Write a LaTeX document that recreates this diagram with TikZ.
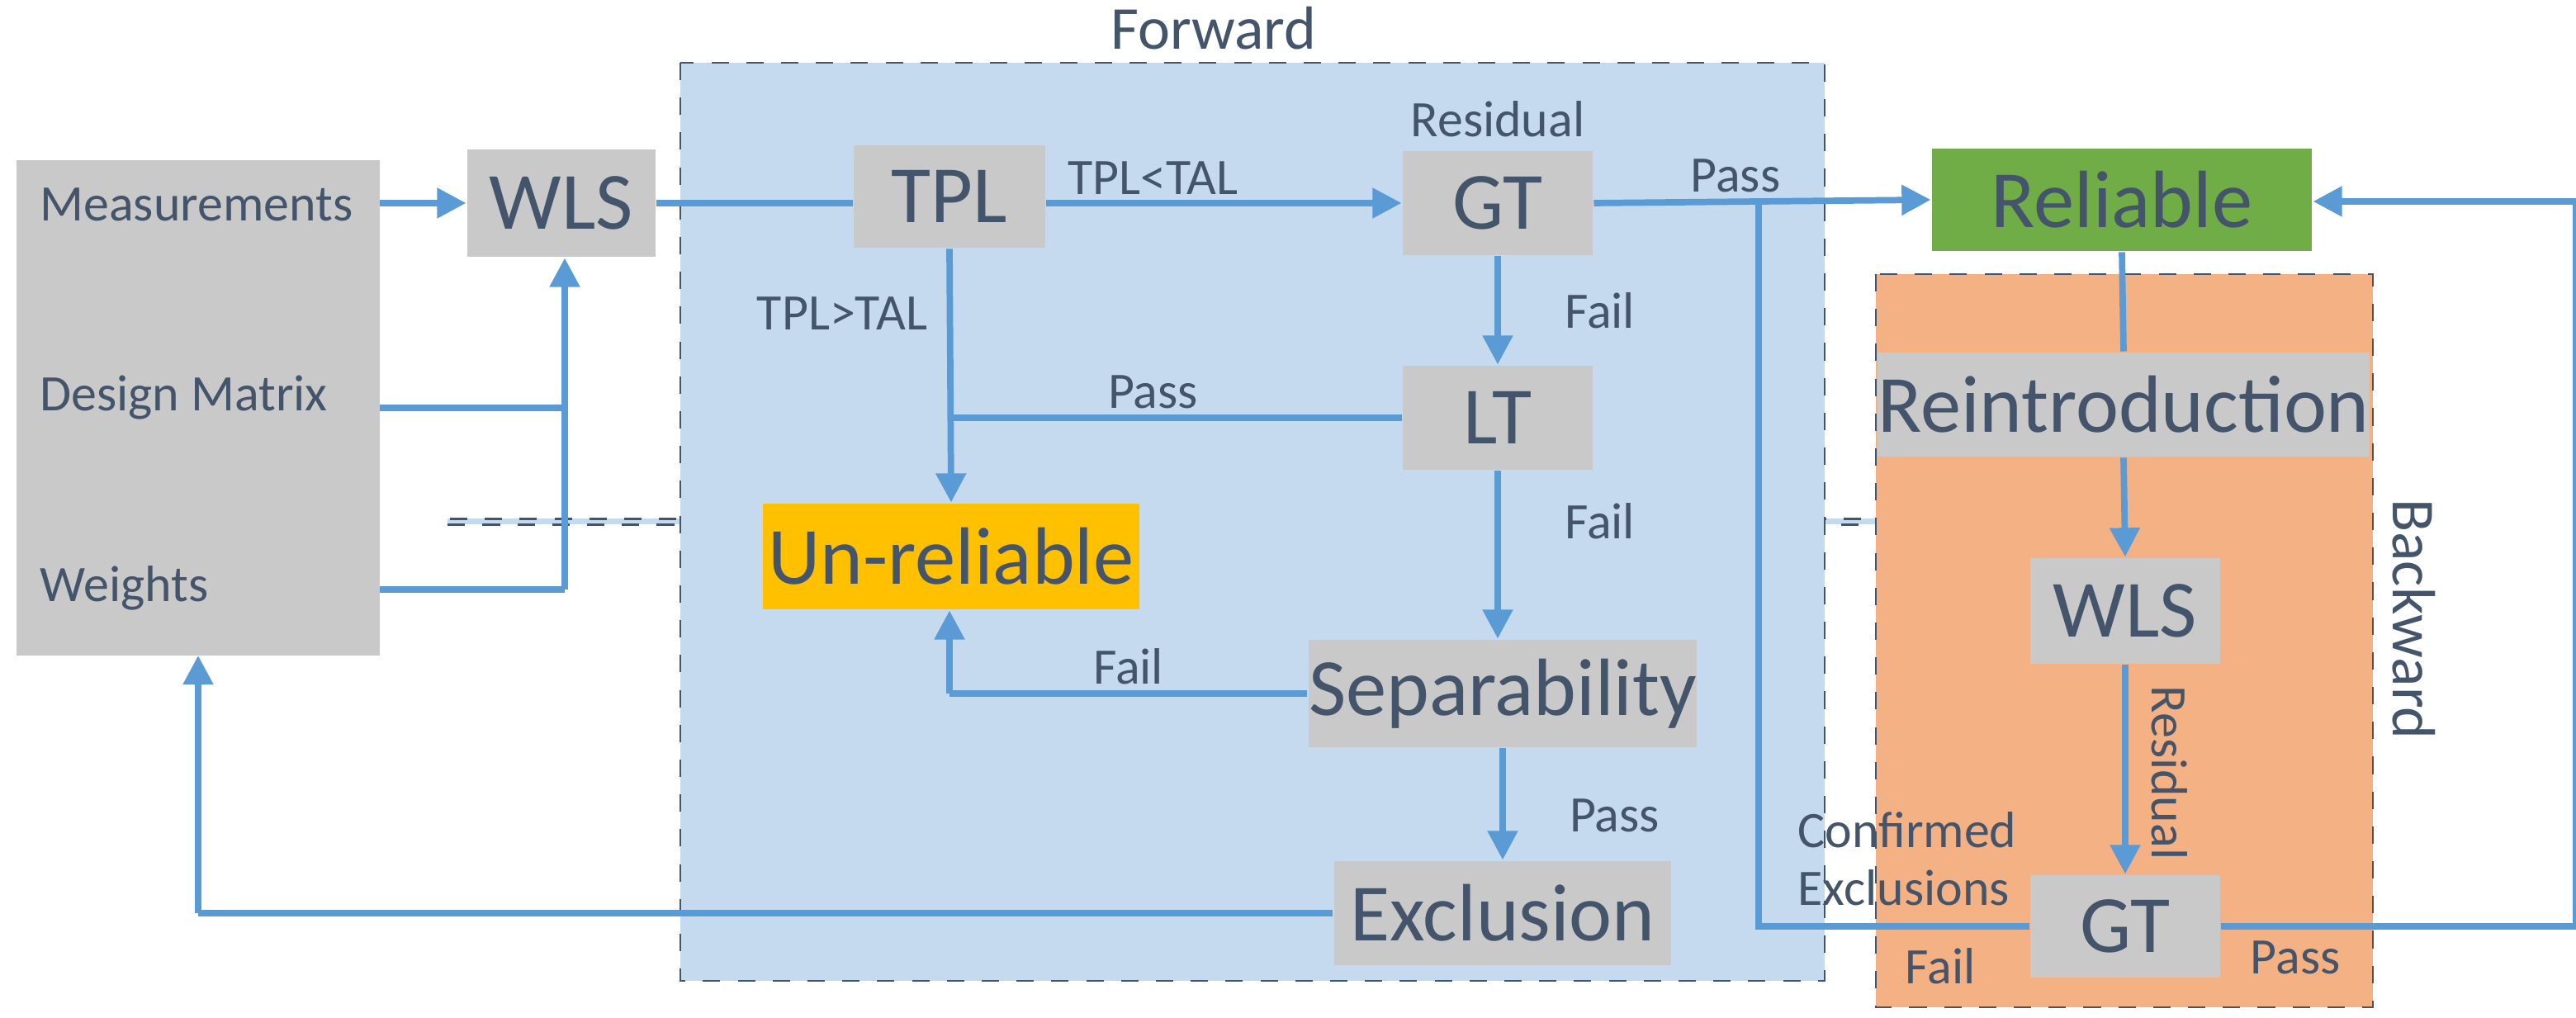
\documentclass[tikz,border=0pt]{standalone}
\usepackage{fontspec}
\setmainfont{Carlito}
\usetikzlibrary{arrows.meta}
\definecolor{txt}{HTML}{44546A}
\definecolor{ln}{HTML}{5B9BD5}
\definecolor{gr}{HTML}{C9C9C9}
\definecolor{fw}{HTML}{C5DAEE}
\definecolor{bw}{HTML}{F4B183}
\definecolor{frm}{HTML}{44546A}
\begin{document}
\begin{tikzpicture}[x=0.01cm,y=-0.01cm,
  box/.style={fill=gr,draw=none,text=txt,font=\fontsize{14}{16}\selectfont,inner sep=0},
  lab/.style={text=txt,font=\fontsize{8.8}{10}\selectfont,inner sep=1pt},
  con/.style={draw=ln,line width=1.1pt},
  arr/.style={con,-{Triangle[length=5pt,width=5pt]}}]
\useasboundingbox (0,0) rectangle (1560,616.5);
% regions
\node[fill=fw,draw=frm,dashed,minimum width=693\pgflinewidth,inner sep=0] (fwd) at (758.5,316) {};
\path[fill=fw,draw=frm,dashed,thin] (412,38) rectangle (1105,594);
\path[fill=bw,draw=frm,dashed,thin] (1136,166) rectangle (1437,610);
\node[text=txt,font=\fontsize{10.5}{12}\selectfont] (fl) at (735,17) {Forward};
\node[text=txt,font=\fontsize{10.5}{12}\selectfont,rotate=-90] (bl) at (1462,375) {Backward};
% left box
\path[fill=gr] (10,97) rectangle (230,397);
\node[lab,anchor=west] (meas) at (20,124) {Measurements};
\node[lab,anchor=west] (dm) at (20,241) {Design Matrix};
\node[lab,anchor=west] (wt) at (20,356) {Weights};
\coordinate (lbR1) at (230,123);
\coordinate (lbR2) at (230,247);
\coordinate (lbR3) at (230,357);
\coordinate (lbB) at (120,397);
% boxes
\node[box,minimum width=1.14cm,minimum height=0.65cm] (wls) at (340,123) {WLS};
\node[box,minimum width=1.16cm,minimum height=0.62cm] (tpl) at (575,119) {TPL};
\node[box,minimum width=1.15cm,minimum height=0.63cm] (gt) at (907,123) {GT};
\node[box,minimum width=1.15cm,minimum height=0.63cm] (lt) at (907,253) {LT};
\node[box,fill={rgb,255:red,255;green,192;blue,0},minimum width=2.28cm,minimum height=0.64cm] (ur) at (576,337) {Un-reliable};
\node[box,minimum width=2.35cm,minimum height=0.65cm] (sep) at (910,420) {Separability};
\node[box,minimum width=2.04cm,minimum height=0.63cm] (exc) at (910,553) {Exclusion};
\node[box,fill={rgb,255:red,112;green,173;blue,71},minimum width=2.3cm,minimum height=0.62cm] (rel) at (1285,121) {Reliable};
\node[box,minimum width=2.82cm,minimum height=0.63cm] (rei) at (1286,245) {Reintroduction};
\node[box,minimum width=1.15cm,minimum height=0.64cm] (wls2) at (1287,370) {WLS};
\node[box,minimum width=1.15cm,minimum height=0.62cm] (gt2) at (1287,561) {GT};
\node[lab] (resl) at (907,72) {Residual};
% connectors
\draw[arr] (lbR1) -- (wls.west);
\coordinate (j1) at (342,247);
\coordinate (j2) at (342,357);
\draw[con] (lbR2) -- (j1);
\draw[con] (lbR3) -- (j2);
\draw[arr] (j2) -- (wls.south -| j2);
\draw[con] (wls.east) -- (tpl.west |- wls.east);
\draw[arr] (tpl.east |- gt.west) -- node[lab,above,pos=0.3] (l1) {TPL<TAL} (gt.west);
\draw[arr] (tpl.south) -- (ur.north);
\node[lab] (l2) at (510,190) {TPL>TAL};
\coordinate (pj) at (575,253);
\draw[con] (lt.west) -- node[lab,above,pos=0.55] (l3) {Pass} (pj);
\draw[arr] (gt.south) -- node[lab,right,xshift=10pt] (l4) {Fail} (lt.north);
\draw[arr] (lt.south) -- node[lab,pos=0.3,right,xshift=10pt] (l5) {Fail} (sep.north -| lt.south);
\coordinate (sj) at (575,420);
\draw[con] (sep.west) -- node[lab,above,pos=0.5] (l6) {Fail} (sj);
\draw[arr] (sj) -- (ur.south -| sj);
\draw[arr] (sep.south) -- node[lab,right,xshift=10pt,yshift=-2pt] (l7) {Pass} (exc.north);
\coordinate (ej) at (120,553);
\draw[con] (exc.west) -- (ej);
\draw[arr] (ej) -- (lbB);
\draw[arr] (gt.east) -- node[lab,above,pos=0.42] (l8) {Pass} (rel.west);
\draw[con] (rel.south) -- (rei.north);
\draw[arr] (rei.south) -- (wls2.north);
\draw[arr] (wls2.south) -- (gt2.north);
\node[lab,rotate=-90] (l9) at (1314,468) {Residual};
\coordinate (r1) at (1560,561);
\coordinate (r2) at (1560,122);
\draw[con] (gt2.east) -- (r1) -- (r2);
\draw[arr] (r2) -- (rel.east |- r2);
\node[lab] (l10) at (1390,580) {Pass};
\coordinate (f1) at (1065,561);
\coordinate (f2) at (1065,123);
\draw[con] (gt2.west) -- (f1) -- (f2);
\node[lab,align=left] (l11) at (1155,520) {Confirmed\\Exclusions};
\node[lab] (l12) at (1175,585) {Fail};
\end{tikzpicture}
\end{document}
